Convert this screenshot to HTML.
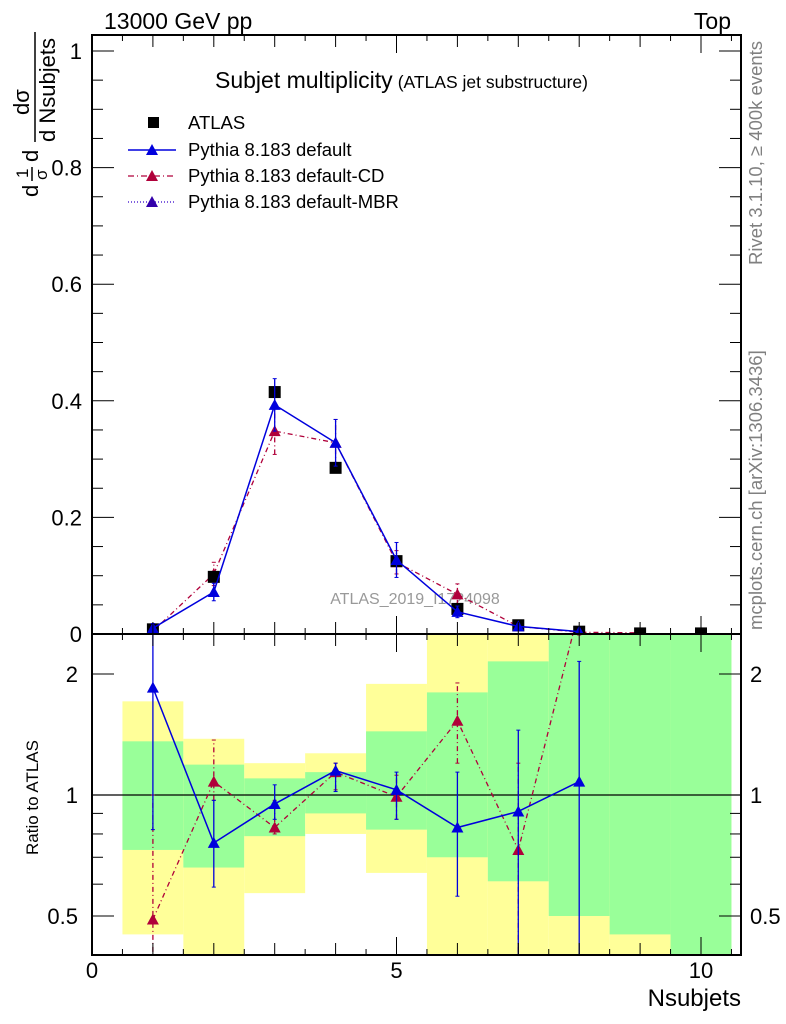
<!DOCTYPE html>
<html><head><meta charset="utf-8"><style>
body{margin:0;background:#fff}
svg{display:block;font-family:"Liberation Sans",sans-serif}
</style></head><body>
<svg id="c" width="786" height="1024" xmlns="http://www.w3.org/2000/svg">
<text x="104" y="29" font-size="23">13000 GeV pp</text>
<text x="731" y="29" font-size="23" text-anchor="end">Top</text>
<text x="215" y="88" font-size="23">Subjet multiplicity<tspan font-size="17.5" dx="5">(ATLAS jet substructure)</tspan></text>
<text x="415" y="604" font-size="16" fill="#999" text-anchor="middle">ATLAS_2019_I1724098</text>
<text transform="translate(762,265) rotate(-90)" font-size="18.5" fill="#808080">Rivet 3.1.10, ≥ 400k events</text>
<text transform="translate(762,630) rotate(-90)" font-size="18.5" fill="#808080">mcplots.cern.ch [arXiv:1306.3436]</text>
<g transform="translate(0,200) rotate(-90)">
<text x="3" y="38" font-size="22">d</text>
<text x="22" y="28" font-size="17">1</text><line x1="19" y1="32" x2="33" y2="32" stroke="#000" stroke-width="1.5"/><text x="20" y="47" font-size="17">σ</text>
<text x="38" y="38" font-size="22">d</text>
<text x="85" y="29" font-size="22">dσ</text><line x1="58" y1="35" x2="168" y2="35" stroke="#000" stroke-width="1.5"/><text x="58" y="55" font-size="22">d Nsubjets</text>
</g>
<text transform="translate(38,855) rotate(-90)" font-size="17">Ratio to ATLAS</text>
<text x="741" y="1006" font-size="24" text-anchor="end">Nsubjets</text>
<g id="plot"></g>
<g>
<rect x="148" y="117" width="11" height="11" fill="#000"/>
<text x="188" y="129" font-size="18.5">ATLAS</text>
<line x1="128" y1="150" x2="176" y2="150" stroke="#0000dd" stroke-width="1.5"/><path d="M146,155 l6,-11 l6,11z" fill="#0000dd"/>
<text x="188" y="156" font-size="18.5">Pythia 8.183 default</text>
<line x1="128" y1="176" x2="176" y2="176" stroke="#b0003a" stroke-width="1.2" stroke-dasharray="6,3,1,3"/><path d="M146,181 l6,-11 l6,11z" fill="#b0003a"/>
<text x="188" y="182" font-size="18.5">Pythia 8.183 default-CD</text>
<line x1="128" y1="202" x2="176" y2="202" stroke="#3300cc" stroke-width="1.2" stroke-dasharray="1,2"/><path d="M146,207 l6,-11 l6,11z" fill="#3300aa"/>
<text x="188" y="208" font-size="18.5">Pythia 8.183 default-MBR</text>
</g>
</svg>
<script>
const categories=[1,2,3,4,5,6,7,8,9,10];
const atlasVals=[0.008,0.098,0.415,0.285,0.125,0.043,0.015,0.004,0.001,0.001];
const defVals=[0.010,0.072,0.393,0.328,0.127,0.038,0.013,0.004];
const defErr=[0.008,0.015,0.045,0.040,0.030,0.010,0.004,0.002];
const cdVals=[0.005,0.103,0.348,0.328,0.123,0.068,0.013,0.003,0.002];
const cdErr=[0.004,0.020,0.040,0.040,0.020,0.018,0.004,0.002,0.001];
const defRatio=[1.85,0.76,0.95,1.15,1.03,0.83,0.91,1.08];
const defRLo=[0.82,0.59,0.87,1.02,0.87,0.56,0.38,0.38];
const defRHi=[2.6,0.97,1.06,1.20,1.14,1.14,1.45,2.15];
const cdRatio=[0.49,1.08,0.83,1.14,0.99,1.53,0.73,2.9];
const cdRLo=[0.38,0.97,0.80,1.03,0.87,1.2,0.38,2.5];
const cdRHi=[1.0,1.37,0.97,1.20,1.12,1.9,1.2,3.2];
const greenHi=[1.36,1.19,1.10,1.14,1.44,1.80,2.15,3,3,3];
const greenLo=[0.73,0.66,0.79,0.90,0.82,0.70,0.61,0.50,0.45,0.3];
const yellowHi=[1.71,1.38,1.20,1.27,1.89,3,3,3,3,3];
const yellowLo=[0.45,0.3,0.57,0.80,0.64,0.40,0.3,0.3,0.3,0.3];
const topTicks=[0,0.2,0.4,0.6,0.8,1];
const ratioTicks=[0.5,1,2];
const xTicks=[0,5,10];

const NS="http://www.w3.org/2000/svg";
const g=document.getElementById('plot');
const L=92,R=741,T=35,M=634,B=955;
const X=v=>92+v*60.9;
const Y=v=>634-v*583;
const YR=v=>795-Math.log2(v)*121;
function mk(tag,at,parent){const e=document.createElementNS(NS,tag);for(const k in at)e.setAttribute(k,at[k]);(parent||g).appendChild(e);return e;}
const clipT=mk('clipPath',{id:'ct'});mk('rect',{x:L,y:T,width:R-L,height:M-T},clipT);
const clipR=mk('clipPath',{id:'cr'});mk('rect',{x:L,y:M,width:R-L,height:B-M},clipR);
const rg=mk('g',{'clip-path':'url(#cr)'});


categories.forEach((c,i)=>{
  const y1=YR(yellowHi[i]),y2=YR(yellowLo[i]);
  const b=mk('rect',{x:X(c-0.5),y:y1,width:60.9,height:y2-y1,fill:'#ffff99'},rg);
  
  
  const g1=YR(greenHi[i]),g2=YR(greenLo[i]);
  const gb=mk('rect',{x:X(c-0.5),y:g1,width:60.9,height:g2-g1,fill:'#99ff99'},rg);
  
  
});
mk('line',{x1:L,x2:R,y1:YR(1),y2:YR(1),stroke:'#000','stroke-width':1.2},rg);
function tri(x,y,col,p){return mk('path',{d:`M${x-6},${y+5}l6,-11l6,11z`,fill:col},p);}
function series(vals,lo,hi,col,dash,fy,p,name){
  const pts=vals.map((v,i)=>X(categories[i])+','+fy(v)).join(' ');
  const l=mk('polyline',{points:pts,fill:'none',stroke:col,'stroke-width':dash?1.3:1.5,'stroke-dasharray':dash||'none'},p);
  
  
  vals.forEach((v,i)=>{const x=X(categories[i]);
    mk('line',{x1:x,x2:x,y1:fy(lo[i]),y2:fy(hi[i]),stroke:col,'stroke-width':1.3,'stroke-dasharray':dash||'none'},p);
    mk('line',{x1:x-2,x2:x+2,y1:fy(lo[i]),y2:fy(lo[i]),stroke:col},p);
    mk('line',{x1:x-2,x2:x+2,y1:fy(hi[i]),y2:fy(hi[i]),stroke:col},p);
    const t=tri(x,fy(v),col,p);
    
    });
}
series(cdRatio,cdRLo,cdRHi,'#b0003a','5,3,1,3',YR,rg,'ratio-cd');
series(defRatio,defRLo,defRHi,'#0000dd',null,YR,rg,'ratio-default');
const tg=mk('g',{'clip-path':'url(#ct)'});


series(cdVals,cdVals.map((v,i)=>v-cdErr[i]),cdVals.map((v,i)=>v+cdErr[i]),'#b0003a','5,3,1,3',Y,tg,'cd');
atlasVals.forEach((v,i)=>{const r=mk('rect',{x:X(categories[i])-6,y:Y(v)-6,width:12,height:12,fill:'#000'},tg);
  
  });
series(defVals,defVals.map((v,i)=>v-defErr[i]),defVals.map((v,i)=>v+defErr[i]),'#0000dd',null,Y,tg,'default');
mk('rect',{x:L,y:T,width:R-L,height:M-T,fill:'none',stroke:'#000','stroke-width':2});
mk('rect',{x:L,y:M,width:R-L,height:B-M,fill:'none',stroke:'#000','stroke-width':2});
for(let k=0;k<=21;k++){const v=k*0.5,x=X(v),big=k%10===0,len=big?18:(k%2===0?12:6);
  [T,M].forEach(y=>mk('line',{x1:x,x2:x,y1:y,y2:y+len,stroke:'#000'}));
  [M,B].forEach(y=>mk('line',{x1:x,x2:x,y1:y,y2:y-len,stroke:'#000'}));}
xTicks.forEach(v=>{const t=mk('text',{x:X(v),y:978,'font-size':22,'text-anchor':'middle'});t.textContent=v;
  
  });
for(let k=0;k<=20;k++){const y=Y(k*0.05),len=k%4===0?22:11;
  mk('line',{x1:L,x2:L+len,y1:y,y2:y,stroke:'#000'});mk('line',{x1:R,x2:R-len,y1:y,y2:y,stroke:'#000'});}
topTicks.forEach(v=>{const t=mk('text',{x:82,y:Y(v)+8,'font-size':22,'text-anchor':'end'});t.textContent=v;
  
  });
[0.4,0.5,0.6,0.7,0.8,0.9,1,2].forEach(v=>{const y=YR(v),len=(v===0.5||v===1||v===2)?22:11;
  mk('line',{x1:L,x2:L+len,y1:y,y2:y,stroke:'#000'});mk('line',{x1:R,x2:R-len,y1:y,y2:y,stroke:'#000'});});
ratioTicks.forEach(v=>{const y=YR(v)+8;
  const a=mk('text',{x:78,y:y,'font-size':22,'text-anchor':'end'});a.textContent=v;
  
  
  const b=mk('text',{x:750,y:y,'font-size':22});b.textContent=v;
  
  });
</script>
</body></html>
